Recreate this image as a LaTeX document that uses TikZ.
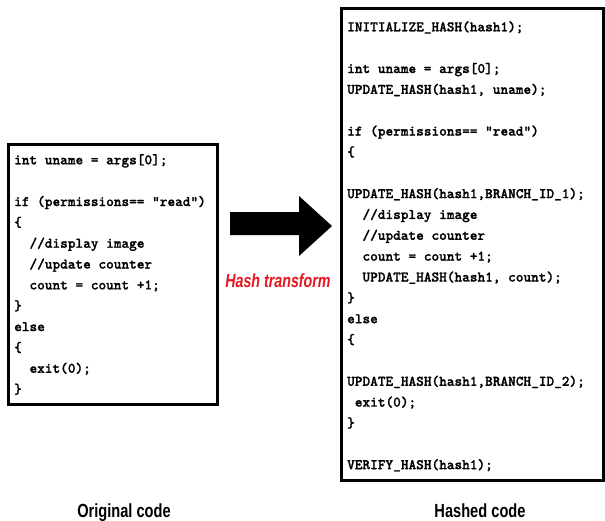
\documentclass[tikz,border=0pt]{standalone}
\usepackage{fontspec}
\newfontfamily\codefont{lmmonolt10-bold}[Extension=.otf, FakeBold=1.2]
\newfontfamily\capfont{Liberation Sans}[FakeStretch=0.77]
\newfontfamily\labfont{Liberation Sans}[FakeStretch=0.75]
\definecolor{hashred}{RGB}{230,20,30}
\tikzset{
  codebox/.style={draw=black, line width=3pt, fill=white, inner sep=0pt},
  codetext/.style={anchor=north west, inner sep=0pt, align=left,
    font=\codefont\fontsize{14.6}{20.85}\selectfont},
  caption/.style={font=\capfont\bfseries\fontsize{19}{22}\selectfont, anchor=base},
  bigarrow/.style={fill=black, draw=none},
}
\begin{document}
\begin{tikzpicture}[x=1pt, y=-1pt]
\useasboundingbox (0,0) rectangle (605,520);

% frames
\draw[codebox] (8,144) rectangle (217,404);
\draw[codebox] (341,8) rectangle (603,480);

% original code
\node[codetext] (origcode) at (14,154) {%
int uname = args[0];\\
\\
if (permissions== "read")\\
\{\\
\ \ //display image\\
\ \ //update counter\\
\ \ count = count +1;\\
\}\\
else\\
\{\\
\ \ exit(0);\\
\}};

% hashed code
\node[codetext] (hashcode) at (347,21) {%
INITIALIZE\_HASH(hash1);\\
\\
int uname = args[0];\\
UPDATE\_HASH(hash1, uname);\\
\\
if (permissions== "read")\\
\{\\
\\
UPDATE\_HASH(hash1,BRANCH\_ID\_1);\\
\ \ //display image\\
\ \ //update counter\\
\ \ count = count +1;\\
\ \ UPDATE\_HASH(hash1, count);\\
\}\\
else\\
\{\\
\\
UPDATE\_HASH(hash1,BRANCH\_ID\_2);\\
\ exit(0);\\
\}\\
\\
VERIFY\_HASH(hash1);};

% transform arrow
\fill[bigarrow] (230,212) -- (299,212) -- (299,196) -- (332,226)
  -- (299,256) -- (299,235) -- (230,235) -- cycle;
\node[font=\labfont\bfseries\itshape\fontsize{19}{22}\selectfont, text=hashred,
  anchor=base] (hashlabel) at (278,287) {Hash transform};

% captions
\node[caption] (origcap) at (124,517) {Original code};
\node[caption] (hashcap) at (480,517) {Hashed code};
\end{tikzpicture}
\end{document}
